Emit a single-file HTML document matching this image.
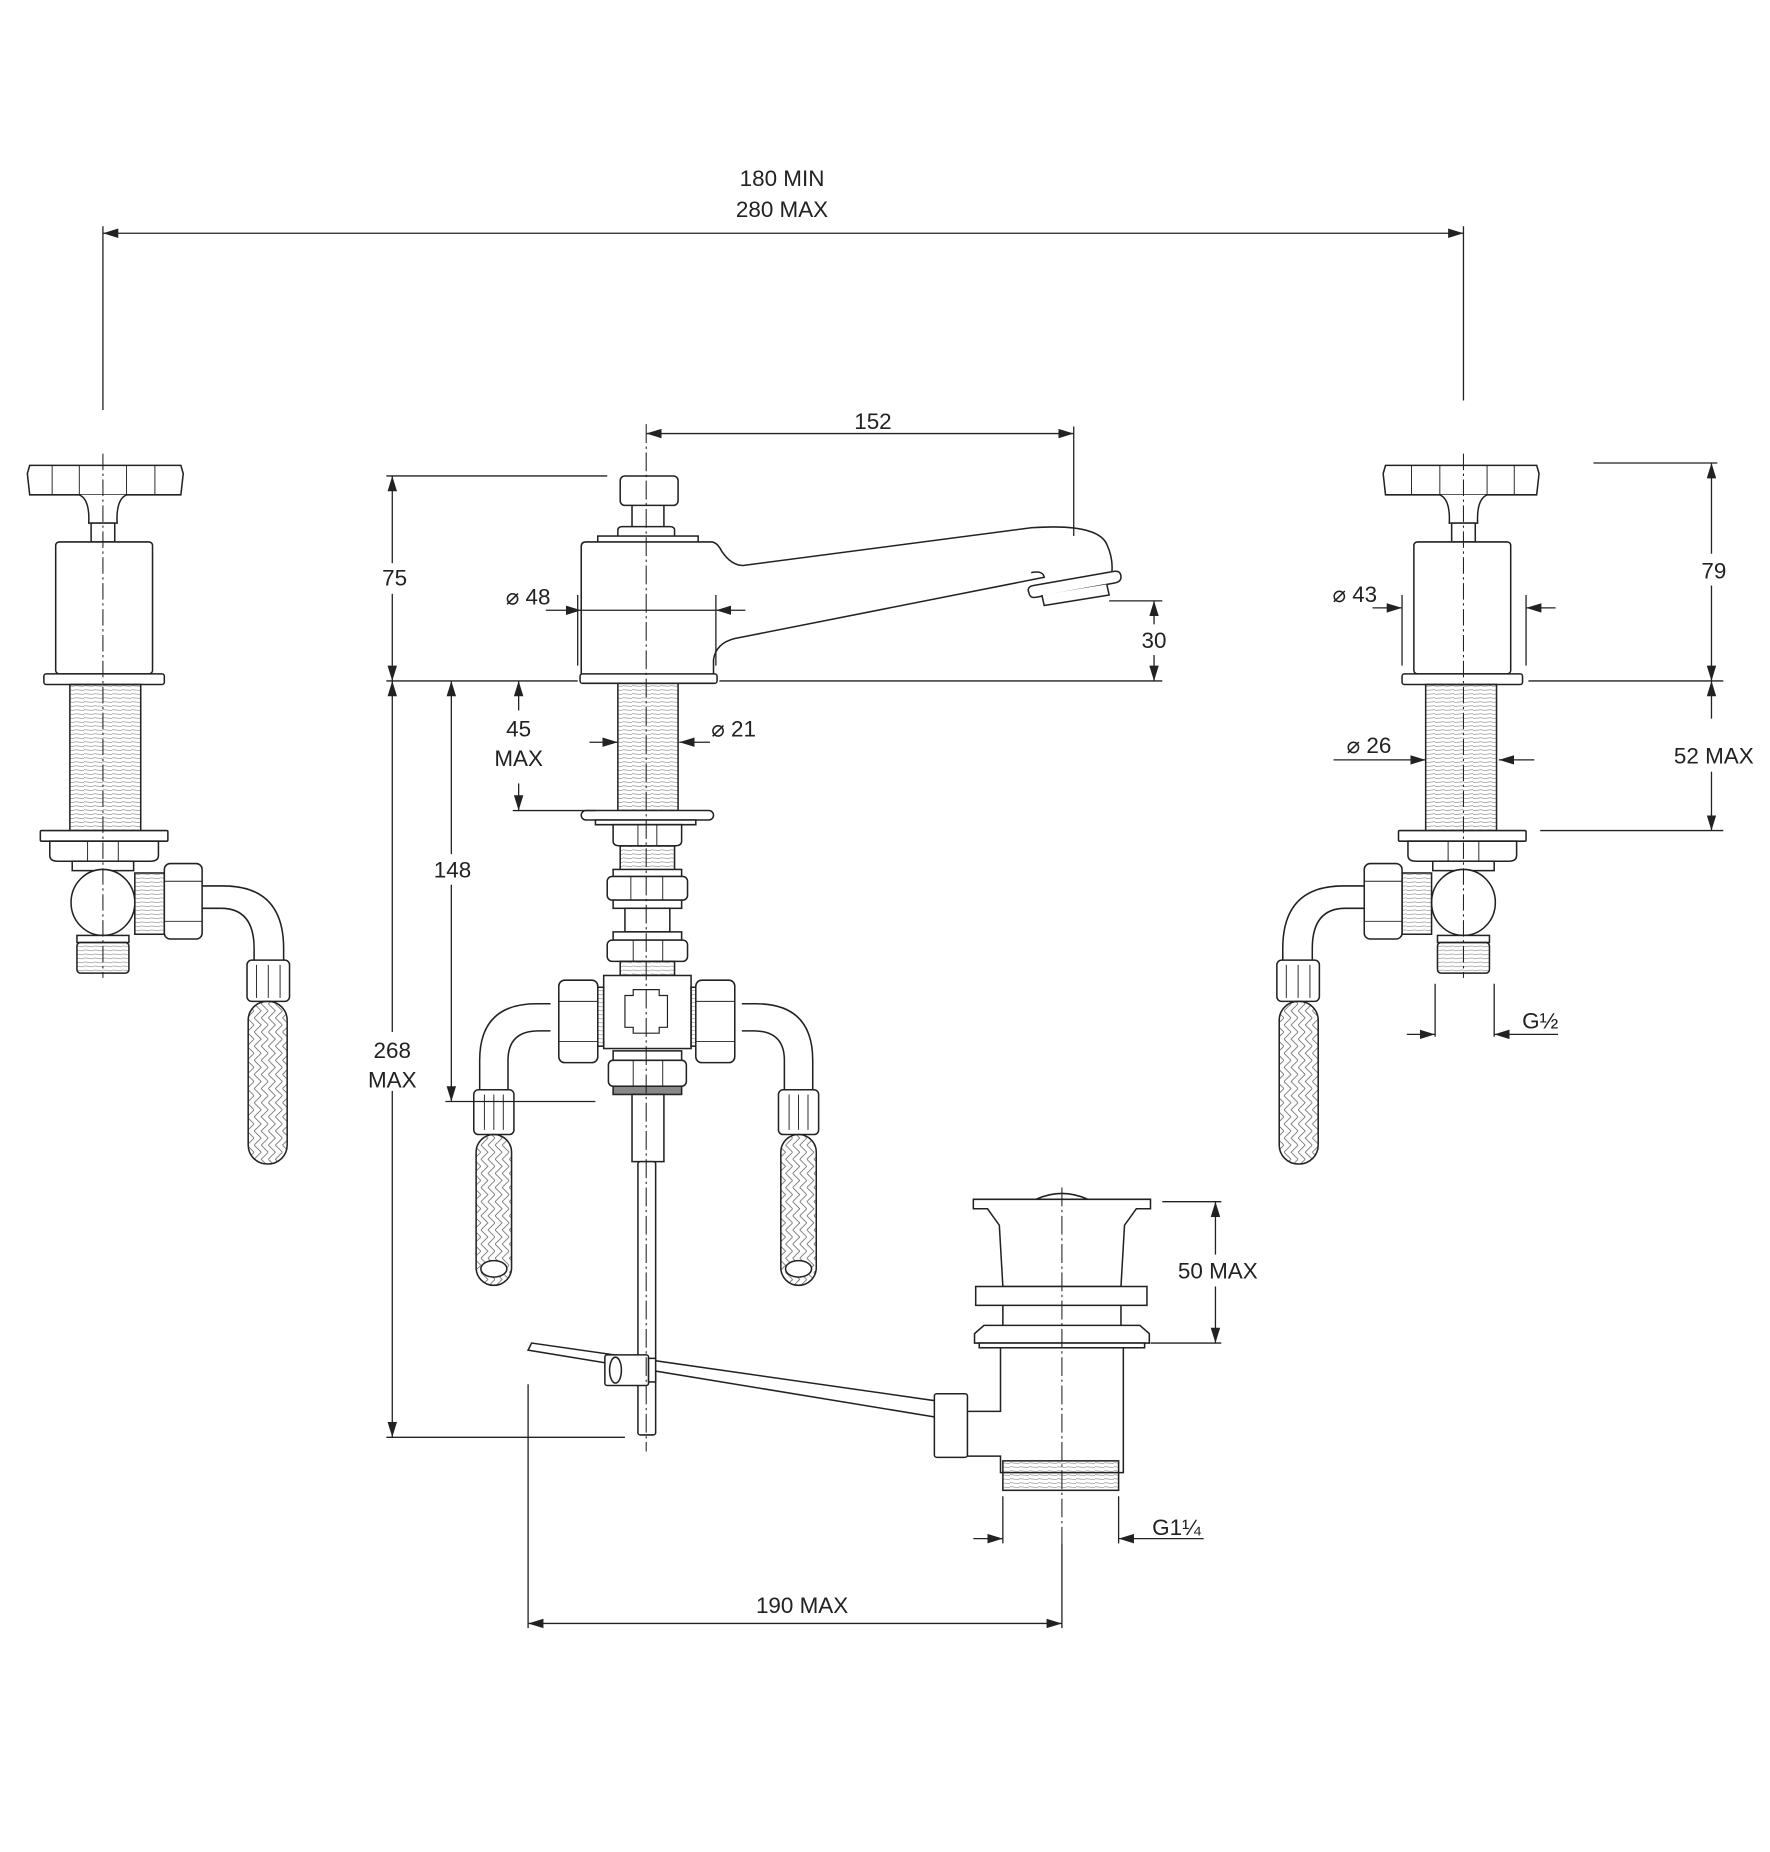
<!DOCTYPE html>
<html><head><meta charset="utf-8"><style>
html,body{margin:0;padding:0;background:#fff;}
svg{display:block;}
text{font-family:"Liberation Sans",sans-serif;font-size:19px;fill:#222;text-anchor:middle;}
</style></head><body>
<svg width="1770" height="1852" viewBox="0.85 0 1498.7 1572" preserveAspectRatio="none" xmlns="http://www.w3.org/2000/svg">
<defs>
<marker id="a" markerUnits="userSpaceOnUse" markerWidth="13" markerHeight="8" refX="13" refY="4" orient="auto-start-reverse"><path d="M0,0 L13,4 L0,8 Z" fill="#222"/></marker>
<pattern id="th" width="8" height="3.4" patternUnits="userSpaceOnUse"><path d="M0,0.5 L8,1.3" stroke="#777" stroke-width="0.5"/></pattern>
<pattern id="br" width="12" height="12" patternUnits="userSpaceOnUse"><path d="M0,0 L6,6 L0,12 M6,0 L12,6 L6,12" stroke="#555" stroke-width="0.6" fill="none"/></pattern>
<g id="valve" fill="#fff" stroke="#222" stroke-width="1.3">
 <path d="M26,395 L154,395 L156,402 L154,420 L26,420 L24,402 Z"/>
 <path d="M45,395 V420 M68,395 V420 M108,395 V420 M132,395 V420" stroke-width="0.8"/>
 <path d="M68,420 Q77,424 76,444 L100,444 Q99,424 108,420"/>
 <rect x="78" y="444" width="20" height="16"/>
 <rect x="48" y="460" width="82" height="112" rx="3"/>
 <rect x="38" y="572" width="102" height="9" rx="2"/>
 <rect x="60" y="581" width="60" height="124" fill="url(#th)"/>
 <rect x="35" y="705" width="108" height="9" rx="1"/>
 <path d="M43,714 H135 V726 Q135,731 128,731 H50 Q43,731 43,726 Z"/>
 <path d="M75,714 V731 M101,714 V731" stroke-width="0.8"/>
 <rect x="62" y="731" width="52" height="8"/>
 <ellipse cx="88" cy="766" rx="27" ry="28"/>
 <rect x="66" y="794" width="44" height="6"/>
 <rect x="66" y="800" width="44" height="26" rx="3" fill="url(#th)"/>
 <rect x="115" y="741" width="25" height="52" fill="url(#th)"/>
 <rect x="140" y="733" width="32" height="64" rx="5"/>
 <path d="M140,748 H172 M140,782 H172" stroke-width="0.8"/>
 <path d="M172,752 L190,752 Q241,752 241,805 L241,816 M172,771 L188,771 Q216,771 216,805 L216,816" fill="none"/>
 <rect x="210" y="815" width="36" height="35" rx="4"/>
 <path d="M218,819 V847 M228,819 V847 M238,819 V847" stroke-width="0.8"/>
 <rect x="211" y="850" width="33" height="138" rx="16" fill="url(#br)"/>
 <path d="M88,385 V830" stroke-dasharray="14,3,2,3" stroke-width="0.9" fill="none"/>
</g>
</defs>

<g stroke="#222" stroke-width="1.1" fill="none">
<path d="M88,198 H1240" marker-start="url(#a)" marker-end="url(#a)"/>
<path d="M88,192 V348 M1240,192 V340"/>
</g>
<text x="663" y="158">180 MIN</text>
<text x="663" y="184">280 MAX</text>

<use href="#valve"/>
<use href="#valve" transform="translate(1328,0) scale(-1,1)"/>

<g stroke="#222" stroke-width="1.1" fill="none">
<path d="M1163,516 H1188" marker-end="url(#a)"/>
<path d="M1318,516 H1293" marker-end="url(#a)"/>
<path d="M1188,505 V565 M1293,505 V565"/>
<path d="M1350,393 H1455 M1295,578 H1460 M1305,705 H1460"/>
<path d="M1450,470 V393" marker-end="url(#a)"/>
<path d="M1450,497 V578" marker-end="url(#a)"/>
<path d="M1450,610 V578" marker-end="url(#a)"/>
<path d="M1450,655 V705" marker-end="url(#a)"/>
<path d="M1130,645 H1208" marker-end="url(#a)"/>
<path d="M1300,645 H1270" marker-end="url(#a)"/>
<path d="M1216,835 V880 M1266,835 V880"/>
<path d="M1192,878 H1216" marker-end="url(#a)"/>
<path d="M1320,878 H1266" marker-end="url(#a)"/>
</g>
<text x="1148" y="511">⌀ 43</text>
<text x="1452" y="491">79</text>
<text x="1452" y="648">52 MAX</text>
<text x="1160" y="639">⌀ 26</text>
<text x="1305" y="873">G½</text>

<g fill="#fff" stroke="#222" stroke-width="1.3">
<rect x="526" y="404" width="49" height="25" rx="4"/>
<path d="M536,429 V447 M563,429 V447"/>
<path d="M524,457 V450 Q524,447 528,447 H568 Q572,447 572,450 V457"/>
<rect x="507" y="455" width="85" height="6"/>
<path d="M493,572 V464 Q493,460 497,460 H603 Q608,460 612,468 Q620,480 630,480 L874,448 Q930,444 938,462 Q944,475 942,488"/>
<path d="M874,486 Q884,484 885,490 L623,542 Q607,546 605,560 V572"/>
<path d="M872,503 Q870,498 876,497 L944,485 Q950,484 950,490 Q950,494 944,495 L878,507 Q873,508 872,503 Z"/>
<path d="M883,505 L885,514 L940,505 L938,496"/>
<rect x="492" y="572" width="116" height="8" rx="2"/>
<rect x="524" y="580" width="51" height="108" fill="url(#th)"/>
<rect x="493" y="688" width="112" height="8" rx="4"/>
<path d="M505,696 H590 V700 H505 Z"/>
<path d="M520,700 H578 V714 Q578,718 572,718 H526 Q520,718 520,714 Z"/>
<path d="M541,700 V718 M557,700 V718" stroke-width="0.8"/>
<rect x="526" y="718" width="46" height="22" fill="url(#th)"/>
<rect x="520" y="738" width="58" height="6"/>
<rect x="515" y="744" width="68" height="20" rx="4"/>
<path d="M535,744 V764 M562,744 V764" stroke-width="0.8"/>
<rect x="520" y="764" width="58" height="7"/>
<rect x="530" y="771" width="38" height="20"/>
<rect x="520" y="791" width="58" height="7"/>
<rect x="515" y="798" width="68" height="18" rx="4"/>
<path d="M537,798 V816 M562,798 V816" stroke-width="0.8"/>
<rect x="526" y="816" width="46" height="12" fill="url(#th)"/>
<rect x="512" y="828" width="74" height="62"/>
<path d="M530,845 H537 V840 H559 V845 H566 V872 H559 V877 H537 V872 H530 Z" stroke-width="1"/>
<path d="M467,852 L455,852 Q407,852 407,900 L407,925 M467,875 L457,875 Q431,875 431,900 L431,925" fill="none"/>
<rect x="498" y="838" width="14" height="50" fill="url(#th)"/>
<rect x="474" y="832" width="33" height="70" rx="5"/>
<path d="M474,850 H507 M474,884 H507" stroke-width="0.8"/>
<path d="M629,852 L641,852 Q689,852 689,900 L689,925 M629,875 L639,875 Q665,875 665,900 L665,925" fill="none"/>
<rect x="586" y="838" width="14" height="50" fill="url(#th)"/>
<rect x="590" y="832" width="33" height="70" rx="5"/>
<path d="M590,850 H623 M590,884 H623" stroke-width="0.8"/>
<rect x="402" y="925" width="34" height="38" rx="4"/>
<path d="M411,929 V959 M419,929 V959 M427,929 V959" stroke-width="0.8"/>
<rect x="404" y="963" width="30" height="128" rx="15" fill="url(#br)"/>
<ellipse cx="419" cy="1077" rx="11" ry="7"/>
<rect x="660" y="925" width="34" height="38" rx="4"/>
<path d="M669,929 V959 M677,929 V959 M685,929 V959" stroke-width="0.8"/>
<rect x="662" y="963" width="30" height="128" rx="15" fill="url(#br)"/>
<ellipse cx="677" cy="1077" rx="11" ry="7"/>
<rect x="520" y="892" width="58" height="8"/>
<rect x="516" y="900" width="66" height="22" rx="4"/>
<path d="M537,900 V922 M562,900 V922" stroke-width="0.8"/>
<rect x="520" y="922" width="58" height="7" fill="#888"/>
<rect x="536" y="929" width="27" height="57"/>
<rect x="541" y="986" width="15" height="232" rx="2"/>
<path d="M448,1146 L451,1140 L800,1190 L800,1204 Z" />
<rect x="513" y="1150" width="37" height="26" rx="2"/>
<ellipse cx="522" cy="1163" rx="5" ry="11"/>
<rect x="550" y="1153" width="6" height="20"/>
<rect x="792" y="1183" width="28" height="54" rx="2"/>
<path d="M825,1018 L975,1018 L975,1026 L963,1026 L953,1040 L950,1092 L850,1092 L847,1040 L837,1026 L825,1026 Z"/>
<path d="M878,1018 Q900,1008 922,1018" fill="none"/>
<rect x="827" y="1092" width="145" height="16"/>
<path d="M850,1108 V1125 M950,1108 V1125"/>
<path d="M826,1132 L834,1125 H966 L974,1132 V1140 H826 Z"/>
<rect x="830" y="1140" width="140" height="4"/>
<path d="M848,1144 V1198 H820 M820,1236 H848 V1250 H952 V1144"/>
<rect x="850" y="1240" width="98" height="25" fill="url(#th)"/>
</g>

<g stroke="#222" stroke-width="0.9" fill="none" stroke-dasharray="16,3,2,3">
<path d="M548,360 V1232"/>
<path d="M900,1008 V1310"/>
</g>

<g stroke="#222" stroke-width="1.1" fill="none">
<path d="M548,368 H910" marker-start="url(#a)" marker-end="url(#a)"/>
<path d="M910,362 V455"/>
<path d="M328,404 H515 M328,578 H490 M610,578 H985 M940,510 H985"/>
<path d="M333,404 V578" marker-start="url(#a)" marker-end="url(#a)"/>
<path d="M978,510 V530" marker-start="url(#a)"/>
<path d="M978,556 V578" marker-end="url(#a)"/>
<path d="M463,518 H493" marker-end="url(#a)"/>
<path d="M632,518 H607" marker-end="url(#a)"/>
<path d="M493,518 H607" />
<path d="M490,505 V565 M607,505 V565"/>
<path d="M500,630 H524" marker-end="url(#a)"/>
<path d="M602,630 H576" marker-end="url(#a)"/>
<path d="M440,603 V578" marker-end="url(#a)"/>
<path d="M440,665 V688" marker-end="url(#a)"/>
<path d="M435,688 H505"/>
<path d="M383,578 V935" marker-start="url(#a)" marker-end="url(#a)"/>
<path d="M378,935 H505"/>
<path d="M333,578 V1220" marker-start="url(#a)" marker-end="url(#a)"/>
<path d="M328,1220 H530"/>
<path d="M985,1020 H1035 M975,1140 H1035"/>
<path d="M1030,1020 V1065" marker-start="url(#a)"/>
<path d="M1030,1092 V1140" marker-end="url(#a)"/>
<path d="M850,1270 V1310 M948,1270 V1310"/>
<path d="M825,1306 H850" marker-end="url(#a)"/>
<path d="M1020,1306 H948" marker-end="url(#a)"/>
<path d="M448,1175 V1382 M900,1310 V1382"/>
<path d="M448,1378 H900" marker-start="url(#a)" marker-end="url(#a)"/>
</g>
<rect x="310" y="478" width="46" height="26" fill="#fff"/>
<text x="335" y="497">75</text>
<rect x="360" y="725" width="46" height="26" fill="#fff"/>
<text x="384" y="745">148</text>
<rect x="305" y="876" width="56" height="50" fill="#fff"/>
<text x="333" y="898">268</text>
<text x="333" y="923">MAX</text>
<rect x="960" y="530" width="36" height="26" fill="#fff"/>
<text x="978" y="550">30</text>
<text x="740" y="364">152</text>
<text x="448" y="513">⌀ 48</text>
<text x="622" y="625">⌀ 21</text>
<text x="440" y="625">45</text>
<text x="440" y="650">MAX</text>
<rect x="995" y="1065" width="76" height="26" fill="#fff"/>
<text x="1032" y="1085">50 MAX</text>
<text x="997" y="1303">G1¼</text>
<text x="680" y="1369">190 MAX</text>
</svg>
</body></html>
